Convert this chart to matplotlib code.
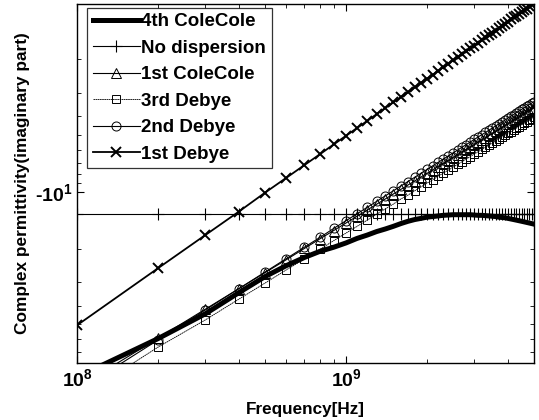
import matplotlib
matplotlib.use("Agg")
import matplotlib.pyplot as plt
from matplotlib.ticker import FixedLocator, NullFormatter

plt.rcParams['font.family'] = ['Liberation Sans', 'DejaVu Sans']
plt.rcParams['mathtext.fontset'] = 'custom'
plt.rcParams['mathtext.rm'] = 'Liberation Sans:weight=bold'
plt.rcParams['mathtext.bf'] = 'Liberation Sans:weight=bold'
plt.rcParams['mathtext.default'] = 'bf'

# Frequency in units of 100 MHz
freq_100MHz = [1, 2, 3, 4, 5, 6, 7, 8, 9, 10, 11, 12, 13, 14, 15, 16, 17, 18, 19, 20,
               21, 22, 23, 24, 25, 26, 27, 28, 29, 30, 31, 32, 33, 34, 35, 36, 37, 38, 39, 40,
               41, 42, 43, 44, 45, 46, 47, 48, 49, 50]

# magnitudes of the (negative) imaginary part
cole4 = [95, 59.5, 44, 34, 28, 24.5, 22.2, 20.6, 19.6, 18.6, 17.6, 16.9, 16.2, 15.7, 15.2,
         14.7, 14.3, 14.0, 13.8, 13.6, 13.5, 13.4, 13.3, 13.25, 13.2, 13.2, 13.2, 13.2, 13.2,
         13.25, 13.3, 13.3, 13.35, 13.4, 13.45, 13.5, 13.6, 13.65, 13.7, 13.8, 13.9, 14.0,
         14.1, 14.2, 14.3, 14.4, 14.5, 14.6, 14.7, 14.8]
nodisp = [13.1, 13.1, 13.1, 13.1, 13.1, 13.1, 13.1, 13.1, 13.1, 13.1,
          13.1, 13.1, 13.1, 13.1, 13.1, 13.1, 13.1, 13.1, 13.1, 13.1,
          13.1, 13.1, 13.1, 13.1, 13.1, 13.1, 13.1, 13.1, 13.1, 13.1,
          13.1, 13.1, 13.1, 13.1, 13.1, 13.1, 13.1, 13.1, 13.1, 13.1,
          13.1, 13.1, 13.1, 13.1, 13.1, 13.1, 13.1, 13.1, 13.1, 13.1]
cole1 = [108.2, 59.2, 41.6, 32.4, 26.7, 22.8, 19.9, 17.7, 16.0, 14.6, 13.44, 12.46, 11.62,
         10.90, 10.26, 9.70, 9.20, 8.76, 8.35, 7.99, 7.66, 7.35, 7.07, 6.82, 6.58, 6.36,
         6.15, 5.96, 5.78, 5.62, 5.46, 5.31, 5.17, 5.04, 4.91, 4.79, 4.68, 4.57, 4.47, 4.37,
         4.28, 4.19, 4.11, 4.02, 3.95, 3.87, 3.80, 3.73, 3.66, 3.60]
debye3 = [124, 66, 47.4, 36.8, 30.3, 25.8, 22.6, 20.1, 18.1, 16.5, 15.2, 14.1, 13.1, 12.3,
          11.6, 10.9, 10.4, 9.88, 9.42, 9.00, 8.63, 8.28, 7.96, 7.68, 7.41, 7.16, 6.93, 6.71,
          6.51, 6.31, 6.14, 5.97, 5.81, 5.66, 5.52, 5.39, 5.25, 5.13, 5.02, 4.91, 4.81, 4.71,
          4.61, 4.52, 4.43, 4.34, 4.26, 4.19, 4.11, 4.04]
debye2 = [113, 60.5, 42.0, 32.4, 26.5, 22.5, 19.6, 17.4, 15.6, 14.2, 13.05, 12.06, 11.23,
          10.50, 9.87, 9.31, 8.82, 8.38, 7.98, 7.62, 7.29, 6.99, 6.72, 6.47, 6.23, 6.02, 5.81,
          5.63, 5.45, 5.29, 5.13, 4.99, 4.86, 4.73, 4.60, 4.49, 4.38, 4.28, 4.18, 4.08, 3.99,
          3.91, 3.82, 3.75, 3.67, 3.60, 3.53, 3.46, 3.40, 3.34]
debye1 = [50.6, 25.3, 16.9, 12.7, 10.1, 8.43, 7.23, 6.33, 5.62, 5.06, 4.60, 4.22, 3.89, 3.61,
          3.37, 3.16, 2.98, 2.81, 2.66, 2.53, 2.41, 2.30, 2.20, 2.11, 2.02, 1.95, 1.87, 1.81,
          1.74, 1.69, 1.63, 1.58, 1.53, 1.49, 1.45, 1.41, 1.37, 1.33, 1.30, 1.27, 1.23, 1.20,
          1.18, 1.15, 1.12, 1.10, 1.08, 1.05, 1.03, 1.01]

freq = [f * 1e8 for f in freq_100MHz]

fig = plt.figure(figsize=(5.39, 4.20), dpi=100)
ax = fig.add_axes([77/539, 57/420, 457/539, 359/420])

ax.plot(freq, cole4, color='black', lw=3.6, label='4th ColeCole')
ax.plot(freq, nodisp, color='black', lw=0.8, marker='+', ms=8, mew=0.8, label='No dispersion')
ax.plot(freq, cole1, color='black', lw=0.8, marker='^', ms=6.5, mfc='none', mew=0.7, label='1st ColeCole')
ax.plot(freq, debye3, color='black', lw=0.6, ls=(0, (2, 0.6)), marker='s', ms=6, mfc='none', mew=0.7, label='3rd Debye')
ax.plot(freq, debye2, color='black', lw=0.8, marker='o', ms=6.5, mfc='none', mew=0.7, label='2nd Debye')
ax.plot(freq, debye1, color='black', lw=1.3, marker='x', ms=7, mew=1.4, label='1st Debye')

ax.set_xscale('log')
ax.set_yscale('log')
ax.set_xlim(1e8, 5e9)
ax.set_ylim(80, 1.02)

ax.xaxis.set_major_locator(FixedLocator([1e8, 1e9]))
ax.set_xticklabels([r'$\mathbf{10^{8}}$', r'$\mathbf{10^{9}}$'])
ax.xaxis.set_minor_locator(FixedLocator([k * 1e8 for k in range(2, 10)] + [k * 1e9 for k in range(2, 6)]))
ax.xaxis.set_minor_formatter(NullFormatter())

ax.yaxis.set_major_locator(FixedLocator([10]))
ax.set_yticklabels([r'$\mathbf{\text{-}10^{1}}$'])
ax.yaxis.set_minor_locator(FixedLocator([2, 3, 4, 5, 6, 7, 8, 9, 20, 30, 40, 50, 60, 70]))
ax.yaxis.set_minor_formatter(NullFormatter())

ax.tick_params(which='both', direction='in', top=True, right=True, labelsize=14)
ax.tick_params(which='major', length=5, width=0.8)
ax.tick_params(which='minor', length=3, width=0.6)
ax.tick_params(axis='x', pad=4)
ax.tick_params(axis='y', pad=3)
for s in ax.spines.values():
    s.set_linewidth(1.0)

ax.set_xlabel('Frequency[Hz]', fontsize=12.3, fontweight='bold', labelpad=8)
ax.set_ylabel('Complex permittivity(imaginary part)', fontsize=12.4, fontweight='bold', labelpad=4)

leg = ax.legend(loc='upper left', bbox_to_anchor=(0.022, 0.99),
                prop={'weight': 'bold', 'size': 13.5}, frameon=True, fancybox=False,
                edgecolor='black', handlelength=2.5, handletextpad=0.1, labelspacing=0.5,
                borderpad=0.3, borderaxespad=0.0)
leg.get_frame().set_linewidth(0.9)

fig.savefig('out.png', dpi=100)
